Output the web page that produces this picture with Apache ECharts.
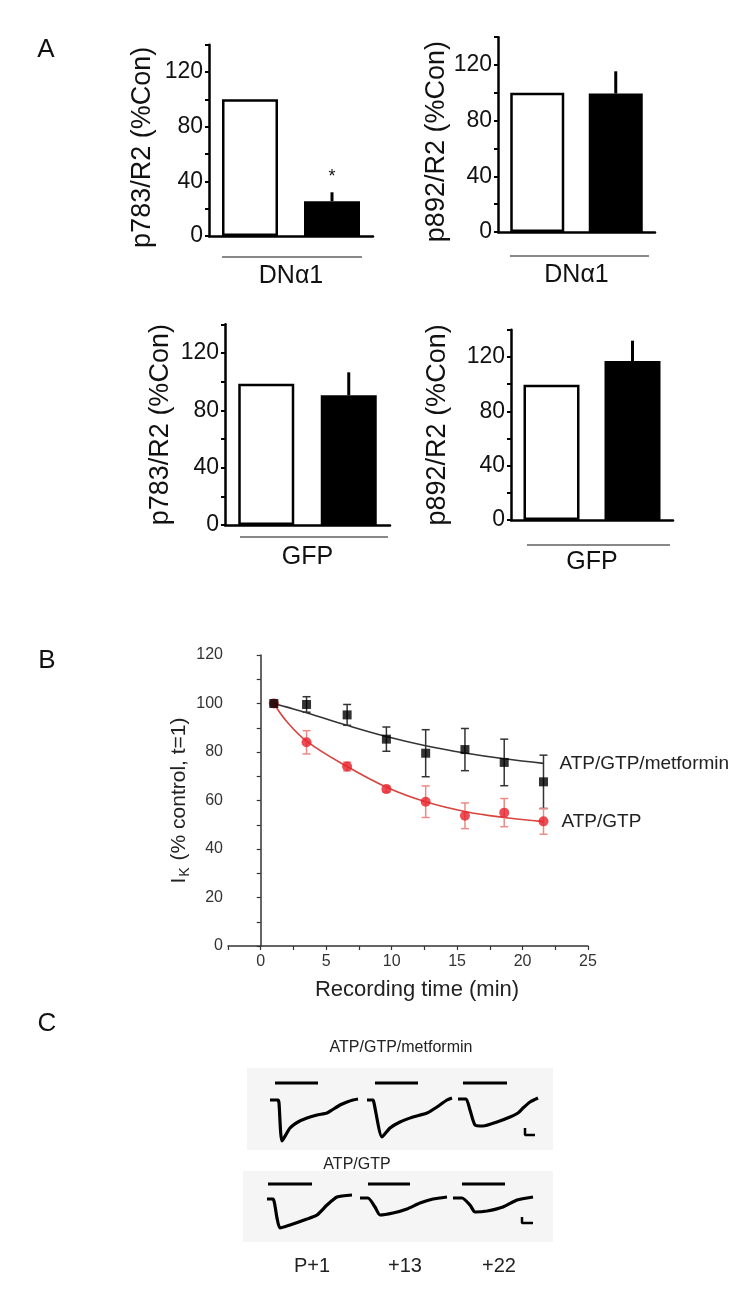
<!DOCTYPE html>
<html>
<head>
<meta charset="utf-8">
<script src="https://cdn.jsdelivr.net/npm/echarts@6/dist/echarts.min.js"></script>
<style>
html,body{margin:0;padding:0;background:#fff;}
#chart{width:750px;height:1302px;}
</style>
</head>
<body>
<div id="chart"></div>
<script>
// ---------- Panel A data ----------
const barCategories = ['Control', 'Treated'];
const p783DN = [100, 25.5];
const p783DNErr = [0, 6.5];
const p783DNSig = ['', '*'];
const p892DN = [100, 99.5];
const p892DNErr = [0, 16];
const p783GFP = [98.5, 90.5];
const p783GFPErr = [0, 16];
const p892GFP = [99.5, 117];
const p892GFPErr = [0, 15];
const barTicksA = [0, 40, 80, 120];

// ---------- Panel B data ----------
const timeMin = [1, 3.5, 6.6, 9.6, 12.6, 15.6, 18.6, 21.6];
const metformin = [100, 99.6, 95.3, 85.3, 79.5, 81, 75.7, 67.7];
const metforminErr = [0, 3.2, 4.3, 5, 9.7, 8.7, 9.6, 11];
const atpgtp = [100, 84, 74, 64.7, 59.5, 53.7, 55, 51.4];
const atpgtpErr = [0, 4.8, 1.8, 1.2, 6.5, 5.3, 5.8, 5.3];
const fitTime = [1, 2, 3.5, 6.6, 9.6, 12.6, 15.6, 18.6, 21.6];
const metforminFit = [100, 98.5, 96.2, 91, 86.4, 82.6, 79.6, 77.2, 75.3];
const atpgtpFit = [100, 92.5, 84.5, 74, 65.5, 59.5, 55.5, 53, 51.3];

// ---------- Panel C data (sweep time, current; arbitrary units) ----------
const sweepLabels = ['P+1', '+13', '+22'];
const metTraces = [
  [[5,0],[13,0],[14,-3],[17,-41],[25,-28],[33,-22],[42,-18],[52,-15],[62,-13],[67,-10],[75,-5],[82,-2],[88,0],[93,1]],
  [[5,0],[11,0],[12,-3],[20,-37],[28,-28],[38,-22],[51,-17],[65,-13],[75,-7],[85,0],[90,2]],
  [[5,1],[13,1],[17,-10],[22,-25],[30,-26],[44,-22],[57,-17],[65,-13],[70,-8],[77,-2],[85,2]]
];
const atpTraces = [
  [[5,-1],[11,-1],[15,-20],[18,-30],[28,-27],[45,-21],[55,-17],[65,-7],[75,1],[90,3]],
  [[5,0],[13,0],[20,-9],[25,-17],[38,-15],[52,-11],[65,-5],[78,-1],[92,1]],
  [[4,0],[13,0],[21,-7],[26,-14],[38,-13],[54,-9],[68,-2],[84,1]]
];
const metStim = [[10,53],[13,56],[10,54]];
const atpStim = [[6,50],[13,55],[13,56]];
const metStimLevel = 17;
const atpStimLevel = 14;
const metScaleBar = [[72,-28],[72,-35],[82,-35]];
const atpScaleBar = [[73,-19],[73,-25],[84,-25]];

const FONT = 'Liberation Sans, Arial, sans-serif';
const chart = echarts.init(document.getElementById('chart'));

// ---------- helpers ----------
function barGridAxes(idx, name, groupLabel, nameGap, xNameGap, namePad) {
  return {
    x: {
      type: 'category', gridIndex: idx, data: barCategories,
      axisLine: {lineStyle: {color: '#000', width: 2.5}},
      axisTick: {show: false}, axisLabel: {show: false},
      name: groupLabel, nameLocation: 'middle', nameGap: xNameGap,
      nameTextStyle: {fontFamily: FONT, fontSize: 25, color: '#111'}
    },
    y: {
      type: 'value', gridIndex: idx, min: 0, max: 140, interval: 20,
      axisLine: {show: true, lineStyle: {color: '#000', width: 2.5}},
      axisTick: {show: true, length: 4, lineStyle: {color: '#000', width: 2}},
      splitLine: {show: false},
      axisLabel: {fontFamily: FONT, fontSize: 23, color: '#111', margin: 6,
        formatter: v => barTicksA.includes(v) ? String(v) : ''},
      name: name, nameLocation: 'middle', nameGap: nameGap, nameRotate: 90,
      nameTextStyle: {fontFamily: FONT, fontSize: 27, color: '#111', padding: namePad}
    }
  };
}

function barSeries(idx, values, errs, sig, barWidth) {
  return [
    {
      type: 'bar', xAxisIndex: idx, yAxisIndex: idx, barWidth: barWidth,
      data: values.map((v, i) => ({
        value: v,
        itemStyle: i === 0 ? {color: '#fff', borderColor: '#000', borderWidth: 2.5}
                           : {color: '#000', borderColor: '#000', borderWidth: 0}
      })),
      z: 2, silent: true
    },
    {
      type: 'custom', xAxisIndex: idx, yAxisIndex: idx, z: 3, silent: true,
      data: values.map((v, i) => [i, v, errs[i]]),
      renderItem: function (params, api) {
        const i = api.value(0), v = api.value(1), e = api.value(2);
        const children = [];
        const base = api.coord([i, v]);
        const top = api.coord([i, v + e]);
        if (e > 0) {
          children.push({type: 'line', shape: {x1: base[0], y1: base[1], x2: top[0], y2: top[1]},
            style: {stroke: '#000', lineWidth: 3}});
        }
        const s = sig ? sig[params.dataIndex] : '';
        if (s) {
          children.push({type: 'text', x: top[0], y: top[1] - 6,
            style: {text: s, fontSize: 18, fontFamily: FONT, fill: '#111', align: 'center', verticalAlign: 'bottom'}});
        }
        return {type: 'group', children: children};
      }
    }
  ];
}

function errRenderer(color, width, cap) {
  return function (params, api) {
    const x = api.value(0), y = api.value(1), e = api.value(2);
    if (!e) return {type: 'group', children: []};
    const t = api.coord([x, y + e]), b = api.coord([x, y - e]);
    const st = {stroke: color, lineWidth: width};
    return {type: 'group', children: [
      {type: 'line', shape: {x1: t[0], y1: t[1], x2: b[0], y2: b[1]}, style: st},
      {type: 'line', shape: {x1: t[0] - cap, y1: t[1], x2: t[0] + cap, y2: t[1]}, style: st},
      {type: 'line', shape: {x1: b[0] - cap, y1: b[1], x2: b[0] + cap, y2: b[1]}, style: st}
    ]};
  };
}

// ---------- grids ----------
const grids = [
  {left: 209, top: 44.7, width: 164, height: 191.3},
  {left: 498, top: 37.2, width: 157, height: 194.8},
  {left: 225, top: 324.3, width: 165, height: 200.7},
  {left: 511, top: 329.8, width: 162, height: 190.2},
  {left: 228, top: 655, width: 360, height: 291}
];
const topRowLefts = [265, 362, 453];
const botRowLefts = [262, 355, 449];
topRowLefts.forEach(l => grids.push({left: l, top: 1075, width: 100, height: 70}));
botRowLefts.forEach(l => grids.push({left: l, top: 1173, width: 100, height: 70}));

const xAxes = [], yAxes = [];
const a1 = barGridAxes(0, 'p783/R2 (%Con)', 'DN\u03b11', 53, 28, [0, 14, 0, 0]);
const a2 = barGridAxes(1, 'p892/R2 (%Con)', 'DN\u03b11', 47, 31, [0, 14, 0, 0]);
const a3 = barGridAxes(2, 'p783/R2 (%Con)', 'GFP', 51, 20, [0, 0, 0, 0]);
const a4 = barGridAxes(3, 'p892/R2 (%Con)', 'GFP', 60, 30, [0, 0, 0, 0]);
[a1, a2, a3, a4].forEach(a => { xAxes.push(a.x); yAxes.push(a.y); });

// panel B axes
xAxes.push({
  type: 'value', gridIndex: 4, min: -2.5, max: 25, interval: 2.5,
  axisLine: {lineStyle: {color: '#333', width: 1.5}},
  axisTick: {length: 4, lineStyle: {color: '#333', width: 1.2}},
  splitLine: {show: false},
  axisLabel: {fontFamily: FONT, fontSize: 16, color: '#333', margin: 8,
    formatter: v => (v >= 0 && v % 5 === 0) ? String(v) : ''},
  name: 'Recording time (min)', nameLocation: 'middle', nameGap: 33,
  nameTextStyle: {fontFamily: FONT, fontSize: 22, color: '#222', padding: [0, 0, 0, 18]}
});
yAxes.push({
  type: 'value', gridIndex: 4, min: 0, max: 120, interval: 10,
  axisLine: {show: true, lineStyle: {color: '#333', width: 1.5}},
  axisTick: {show: true, length: 4, lineStyle: {color: '#333', width: 1.2}},
  splitLine: {show: false},
  axisLabel: {fontFamily: FONT, fontSize: 16, color: '#333', margin: 5,
    formatter: v => v % 20 === 0 ? String(v) : ''},
  name: '{a|I}{k|K}{a| (% control, t=1)}', nameLocation: 'middle', nameGap: 36, nameRotate: 90,
  nameTextStyle: {rich: {
    a: {fontFamily: FONT, fontSize: 21, color: '#222', lineHeight: 26, verticalAlign: 'middle'},
    k: {fontFamily: FONT, fontSize: 14, color: '#222', lineHeight: 26, verticalAlign: 'bottom', padding: [8, 1, 0, 1]}
  }}
});

// panel C axes (hidden)
for (let g = 5; g < 11; g++) {
  const bottom = g >= 8;
  xAxes.push({
    type: 'value', gridIndex: g, min: 0, max: 100, show: true,
    axisLine: {show: false}, axisTick: {show: false}, axisLabel: {show: false}, splitLine: {show: false},
    name: bottom ? sweepLabels[g - 8] : '', nameLocation: 'middle', nameGap: 13,
    nameTextStyle: {fontFamily: FONT, fontSize: 20, color: '#222'}
  });
  yAxes.push({type: 'value', gridIndex: g, min: -45, max: 25, show: false});
}

// ---------- series ----------
let series = [];
series = series.concat(barSeries(0, p783DN, p783DNErr, p783DNSig, 56));
series = series.concat(barSeries(1, p892DN, p892DNErr, null, 54));
series = series.concat(barSeries(2, p783GFP, p783GFPErr, null, 56));
series = series.concat(barSeries(3, p892GFP, p892GFPErr, null, 56));

// Panel B
series.push({
  type: 'line', xAxisIndex: 4, yAxisIndex: 4, smooth: 0.4, showSymbol: false, silent: true,
  data: fitTime.map((t, i) => [t, metforminFit[i]]),
  lineStyle: {color: '#333', width: 1.6}, z: 2,
  endLabel: {show: true, formatter: 'ATP/GTP/metformin', distance: 16,
    fontFamily: FONT, fontSize: 19, color: '#222'}
});
series.push({
  type: 'line', xAxisIndex: 4, yAxisIndex: 4, smooth: 0.4, showSymbol: false, silent: true,
  data: fitTime.map((t, i) => [t, atpgtpFit[i]]),
  lineStyle: {color: '#d8443f', width: 1.6}, z: 2,
  endLabel: {show: true, formatter: 'ATP/GTP', distance: 18,
    fontFamily: FONT, fontSize: 19, color: '#222'}
});
series.push({
  type: 'custom', xAxisIndex: 4, yAxisIndex: 4, z: 3, silent: true,
  data: timeMin.map((t, i) => [t, metformin[i], metforminErr[i]]),
  renderItem: errRenderer('#333', 1.5, 4)
});
series.push({
  type: 'custom', xAxisIndex: 4, yAxisIndex: 4, z: 3, silent: true,
  data: timeMin.map((t, i) => [t, atpgtp[i], atpgtpErr[i]]),
  renderItem: errRenderer('#ec8a86', 1.5, 4)
});
series.push({
  type: 'scatter', xAxisIndex: 4, yAxisIndex: 4, symbol: 'circle', symbolSize: 10, z: 4, silent: true,
  data: timeMin.map((t, i) => [t, atpgtp[i]]),
  itemStyle: {color: '#e8202a'}
});
series.push({
  type: 'scatter', xAxisIndex: 4, yAxisIndex: 4, symbol: 'rect', symbolSize: 9, z: 5, silent: true,
  data: timeMin.map((t, i) => [t, metformin[i]]),
  itemStyle: {color: '#000'}
});

// Panel C
function traceSeries(g, pts) {
  return {type: 'line', xAxisIndex: g, yAxisIndex: g, data: pts, showSymbol: false, silent: true,
    smooth: 0.2, lineStyle: {color: '#000', width: 3.2}, z: 3};
}
function stimSeries(g, on, off, level) {
  return {type: 'line', xAxisIndex: g, yAxisIndex: g, data: [[on, level], [off, level]], showSymbol: false,
    silent: true, lineStyle: {color: '#000', width: 3}, z: 3};
}
for (let s = 0; s < 3; s++) {
  series.push(traceSeries(5 + s, metTraces[s]));
  series.push(stimSeries(5 + s, metStim[s][0], metStim[s][1], metStimLevel));
  series.push(traceSeries(8 + s, atpTraces[s]));
  series.push(stimSeries(8 + s, atpStim[s][0], atpStim[s][1], atpStimLevel));
}
series.push({type: 'line', xAxisIndex: 7, yAxisIndex: 7, data: metScaleBar, showSymbol: false, silent: true,
  lineStyle: {color: '#000', width: 2.5}});
series.push({type: 'line', xAxisIndex: 10, yAxisIndex: 10, data: atpScaleBar, showSymbol: false, silent: true,
  lineStyle: {color: '#000', width: 2.5}});

// ---------- decorations ----------
const graphic = [
  {type: 'rect', shape: {x: 247, y: 1068, width: 306, height: 82}, style: {fill: '#f5f5f5'}, z: -10, silent: true},
  {type: 'rect', shape: {x: 243, y: 1171, width: 310, height: 71}, style: {fill: '#f5f5f5'}, z: -10, silent: true},
  {type: 'text', x: 46, y: 50, style: {text: 'A', fontFamily: FONT, fontSize: 26, fill: '#111', align: 'center', verticalAlign: 'middle'}},
  {type: 'text', x: 47, y: 661, style: {text: 'B', fontFamily: FONT, fontSize: 26, fill: '#111', align: 'center', verticalAlign: 'middle'}},
  {type: 'text', x: 47, y: 1024, style: {text: 'C', fontFamily: FONT, fontSize: 26, fill: '#111', align: 'center', verticalAlign: 'middle'}},
  {type: 'line', shape: {x1: 222, y1: 257, x2: 362, y2: 257}, style: {stroke: '#888', lineWidth: 2}},
  {type: 'line', shape: {x1: 510, y1: 256, x2: 649, y2: 256}, style: {stroke: '#888', lineWidth: 2}},
  {type: 'line', shape: {x1: 240, y1: 537, x2: 388, y2: 537}, style: {stroke: '#888', lineWidth: 2}},
  {type: 'line', shape: {x1: 527, y1: 545, x2: 670, y2: 545}, style: {stroke: '#888', lineWidth: 2}},
  {type: 'text', x: 401, y: 1048, style: {text: 'ATP/GTP/metformin', fontFamily: FONT, fontSize: 16, fill: '#222', align: 'center', verticalAlign: 'middle'}},
  {type: 'text', x: 357, y: 1165, style: {text: 'ATP/GTP', fontFamily: FONT, fontSize: 16, fill: '#222', align: 'center', verticalAlign: 'middle'}}
];

chart.setOption({
  animation: false,
  backgroundColor: '#fff',
  grid: grids,
  xAxis: xAxes,
  yAxis: yAxes,
  series: series,
  graphic: graphic
});
</script>
</body>
</html>
